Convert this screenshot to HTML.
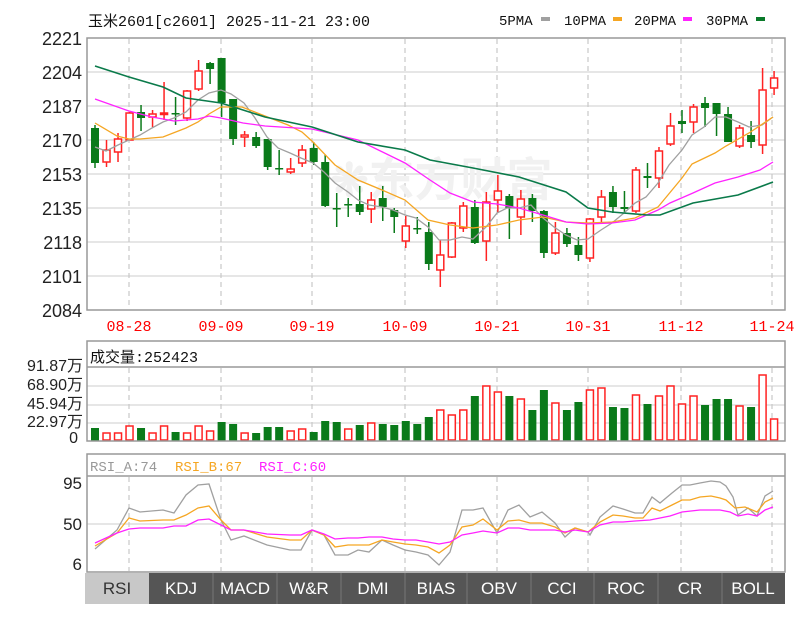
<!DOCTYPE html>
<html><head><meta charset="utf-8"><style>
body{margin:0;background:#fff;width:801px;height:618px;overflow:hidden}
svg{display:block}
.m{font-family:"Liberation Mono","Noto Sans CJK SC",monospace}
.s{font-family:"Liberation Sans","Noto Sans CJK SC",sans-serif}
</style></head><body>
<svg id="c" width="801" height="618" viewBox="0 0 801 618" xmlns="http://www.w3.org/2000/svg">
<rect width="801" height="618" fill="#fff"/>
<text x="88" y="26" class="m" font-size="15" fill="#111">玉米2601[c2601] 2025-11-21 23:00</text>
<g class="m" font-size="14" fill="#111">
<text x="499" y="25">5PMA</text><rect x="541" y="17" width="9" height="4" fill="#a0a0a0"/>
<text x="564" y="25">10PMA</text><rect x="613" y="17" width="9" height="4" fill="#f5a623"/>
<text x="634" y="25">20PMA</text><rect x="683" y="17" width="9" height="4" fill="#ff22ff"/>
<text x="706" y="25">30PMA</text><rect x="756" y="17" width="9" height="4" fill="#0a7a2a"/>
</g>
<g stroke="#ddd" stroke-width="1.5">
<line x1="87" x2="785" y1="72" y2="72"/><line x1="87" x2="785" y1="106" y2="106"/><line x1="87" x2="785" y1="140" y2="140"/><line x1="87" x2="785" y1="174" y2="174"/><line x1="87" x2="785" y1="208" y2="208"/><line x1="87" x2="785" y1="242" y2="242"/><line x1="87" x2="785" y1="276" y2="276"/>
<line x1="87" x2="785" y1="386" y2="386"/><line x1="87" x2="785" y1="405" y2="405"/><line x1="87" x2="785" y1="423" y2="423"/>
<line x1="87" x2="785" y1="524" y2="524"/>
</g>
<g id="vd" stroke="#c8c8c8" stroke-width="1.2" stroke-dasharray="5,4"></g>
<text x="330" y="196" class="s" font-size="46" fill="#f1f1f1" font-weight="bold">❋东方财富</text>
<g class="s" font-size="18" fill="#222" text-anchor="end">
<text x="82" y="45">2221</text><text x="82" y="79">2204</text><text x="82" y="113">2187</text><text x="82" y="147">2170</text><text x="82" y="181">2153</text><text x="82" y="215">2135</text><text x="82" y="249">2118</text><text x="82" y="283">2101</text><text x="82" y="317">2084</text>
</g>
<g class="m" font-size="15" fill="#f00" text-anchor="middle">
<text x="129" y="331">08-28</text><text x="221" y="331">09-09</text><text x="312" y="331">09-19</text><text x="405" y="331">10-09</text><text x="497" y="331">10-21</text><text x="588" y="331">10-31</text><text x="681" y="331">11-12</text><text x="772" y="331">11-24</text>
</g>
<g id="cd"></g>
<g fill="none" stroke-width="1.3">
<polyline stroke="#a0a0a0" points="95,147 106,151 118,145 129,140 140,135 152,128 163,122 174,118 186,112 198,100 209,93 221,90 231,94 244,103 255,118 267,137 278,148 290,153 301,158 313,163 324,172 335,183 348,192 358,200 369,205 382,207 393,210 405,215 416,218 428,227 439,240 450,240 462,237 473,239 486,227 497,213 507,208 519,208 531,205 543,218 554,227 566,235 577,240 588,239 601,230 612,223 624,213 635,203 646,197 658,183 669,165 682,150 692,135 704,127 715,117 726,117 738,122 749,127 762,125 773,117"/>
<polyline stroke="#f5a623" points="95,123 117,136 129,139 140,139 163,137 186,128 198,122 209,114 221,107 242,107 265,116 288,125 302,132 313,142 335,165 358,180 382,190 405,200 428,220 450,225 473,228 497,225 519,220 543,217 566,222 588,223 612,222 635,218 658,207 682,178 692,164 715,153 726,146 749,133 773,117"/>
<polyline stroke="#ff22ff" points="95,99 129,111 152,117 174,121 198,119 209,116 221,118 243,123 265,126 312,129 358,140 405,163 430,180 450,193 473,202 497,204 519,208 543,215 566,222 588,224 612,223 635,220 658,210 670,203 693,193 715,183 738,177 760,170 773,162"/>
<polyline stroke="#0a7a4a" stroke-width="1.6" points="95,66 129,77 163,87 186,98 221,103 265,117 312,127 358,142 405,150 430,160 473,168 519,177 566,192 588,208 612,212 647,215 660,215 693,203 738,195 773,182"/>
</g>
<rect x="87" y="38" width="698" height="272" fill="none" stroke="#999" stroke-width="1.5"/>
<line x1="87" x2="785" y1="367" y2="367" stroke="#999" stroke-width="1.5"/>
<text x="90" y="362" class="m" font-size="15" fill="#111">成交量:252423</text>
<g class="s" font-size="16" fill="#222" text-anchor="end">
<text x="83" y="371">91.87万</text><text x="83" y="390">68.90万</text><text x="83" y="409">45.94万</text><text x="83" y="427">22.97万</text><text x="78" y="443">0</text>
</g>
<g id="vb"></g>
<rect x="87" y="341" width="698" height="100" fill="none" stroke="#999" stroke-width="1.5"/>
<line x1="87" x2="785" y1="476" y2="476" stroke="#999" stroke-width="1.5"/>
<g class="m" font-size="14">
<text x="90" y="471" fill="#999">RSI_A:74</text><text x="175" y="471" fill="#f5a623">RSI_B:67</text><text x="259" y="471" fill="#ff22ff">RSI_C:60</text>
</g>
<g class="s" font-size="17" fill="#222" text-anchor="end">
<text x="82" y="489">95</text><text x="82" y="530">50</text><text x="82" y="570">6</text>
</g>
<g fill="none" stroke-width="1.3">
<polyline stroke="#a0a0a0" points="95,549 117,530 129,508 140,512 163,510 174,513 186,495 198,485 209,484 221,520 231,540 244,536 267,545 290,550 301,550 312,530 324,535 335,555 348,555 358,550 369,552 382,540 393,545 405,550 416,552 428,555 439,565 450,552 462,510 473,510 483,508 497,533 508,510 519,505 530,517 542,512 555,523 565,537 575,528 588,532 590,535 600,517 613,506 623,509 635,513 643,513 652,497 660,503 672,493 682,485 690,485 700,483 711,481 720,482 726,486 733,497 738,515 748,508 757,516 765,496 773,491"/>
<polyline stroke="#f5a623" points="95,546 117,533 129,518 140,521 163,520 174,520 186,515 198,508 209,506 221,520 231,530 244,530 267,537 290,540 301,540 312,530 324,535 335,547 348,545 358,545 369,545 382,540 393,542 405,544 416,545 428,547 439,553 450,545 462,527 473,525 483,519 497,530 508,521 519,520 530,523 542,523 555,527 565,533 575,528 588,532 600,522 613,515 623,516 635,518 643,518 652,508 660,511 672,505 682,500 690,500 700,497 711,496 720,498 726,500 735,508 745,507 757,512 765,502 773,498"/>
<polyline stroke="#ff22ff" points="95,543 117,533 129,529 140,528 163,528 174,526 186,526 198,520 209,519 221,525 231,530 244,530 267,534 290,535 301,535 312,530 324,534 335,539 348,538 358,538 369,537 382,537 393,539 405,540 416,540 428,542 439,544 450,542 462,535 473,533 483,531 497,533 508,528 519,528 530,530 542,530 555,530 565,532 575,530 588,532 600,525 613,522 623,522 635,521 650,520 670,516 682,512 700,510 720,510 730,512 738,516 748,514 757,516 765,510 773,507"/>
</g>
<rect x="87" y="454" width="698" height="118" fill="none" stroke="#999" stroke-width="1.5"/>
<rect x="85" y="573" width="700" height="31" fill="#555"/>
<rect x="85" y="573" width="64" height="31" fill="#c8c8c8"/>
<g stroke="#777" stroke-width="1"><line x1="213" x2="213" y1="573" y2="604"/><line x1="277" x2="277" y1="573" y2="604"/><line x1="341" x2="341" y1="573" y2="604"/><line x1="405" x2="405" y1="573" y2="604"/><line x1="467" x2="467" y1="573" y2="604"/><line x1="531" x2="531" y1="573" y2="604"/><line x1="594" x2="594" y1="573" y2="604"/><line x1="658" x2="658" y1="573" y2="604"/><line x1="722" x2="722" y1="573" y2="604"/></g>
<g class="s" font-size="17" fill="#fff" text-anchor="middle">
<text x="117" y="594" fill="#333">RSI</text><text x="181" y="594">KDJ</text><text x="245" y="594">MACD</text><text x="309" y="594">W&amp;R</text><text x="373" y="594">DMI</text><text x="436" y="594">BIAS</text><text x="499" y="594">OBV</text><text x="562" y="594">CCI</text><text x="626" y="594">ROC</text><text x="690" y="594">CR</text><text x="753" y="594">BOLL</text>
</g>
</svg>
<script>
var NS="http://www.w3.org/2000/svg";
function el(p,t,a){var e=document.createElementNS(NS,t);for(var k in a)e.setAttribute(k,a[k]);p.appendChild(e);return e;}
var vd=document.getElementById('vd');
[129,221,312,405,497,588,681,772].forEach(function(x){
 [[39,309],[368,440],[477,571]].forEach(function(r){el(vd,'line',{x1:x,x2:x,y1:r[0],y2:r[1]});});
});
var C=[['g',128,163,125,168],['r',150,162,140,167],['r',139,152,133,162],['r',113,140,112,140],['g',112,118,105,131],['r',114,117,110,127],['r',113,114,82,120],['g',113,114,97,125],['r',91,118,90,121],['r',71,89,60,91],['g',63,69,62,84],['g',58,103,58,117],['g',99,139,99,145],['r',135,137,131,147],['g',137,146,132,148],['g',139,167,139,170],['g',168,169,150,175],['r',169,172,158,174],['r',150,163,145,167],['g',148,162,142,165],['g',162,206,155,207],['g',208,209,193,227],['g',204,205,198,217],['g',204,212,186,215],['r',200,209,192,223],['g',198,207,186,221],['g',210,217,208,233],['r',226,241,216,248],['g',228,229,217,234],['g',232,264,222,270],['r',255,270,240,287],['r',223,257,222,258],['r',206,228,202,232],['g',207,243,200,244],['r',202,241,192,261],['r',191,200,175,213],['g',196,208,194,239],['r',199,217,190,235],['g',198,211,194,222],['g',211,253,210,258],['r',233,253,222,255],['g',233,244,228,247],['g',245,255,237,261],['r',219,258,218,262],['r',197,217,190,224],['g',192,207,186,213],['g',207,209,191,212],['r',170,211,167,213],['g',176,178,163,188],['r',151,178,147,188],['r',126,144,113,146],['g',121,124,110,133],['r',107,122,104,133],['g',103,108,97,127],['g',103,114,103,136],['g',114,142,107,142],['r',128,146,125,148],['g',135,142,121,148],['r',90,145,68,154],['r',78,88,71,95]];
var cd=document.getElementById('cd');
C.forEach(function(c,i){var x=95+i*11.51;var col=c[0]=='r'?'#f22':'#0a7a1a';
 el(cd,'line',{x1:x,x2:x,y1:c[3],y2:c[4],stroke:col,'stroke-width':1.5});
 var h=Math.max(c[2]-c[1],1.5);
 if(c[0]=='r')el(cd,'rect',{x:x-3.5,y:c[1],width:7,height:h,fill:'#fff',stroke:col,'stroke-width':1.5});
 else el(cd,'rect',{x:x-4,y:c[1],width:8,height:h,fill:col});
});
var V=[['g',428],['r',433],['r',433],['r',426],['g',428],['r',433],['r',426],['g',432],['r',433],['r',426],['r',431],['g',422],['g',424],['r',433],['g',433],['g',427],['g',427],['r',431],['r',429],['g',432],['g',421],['g',422],['r',429],['g',425],['r',423],['g',424],['g',425],['g',421],['g',424],['g',417],['r',410],['r',415],['r',410],['g',396],['r',386],['r',392],['g',396],['r',399],['g',410],['g',390],['r',403],['g',410],['g',402],['r',390],['r',388],['g',407],['g',408],['r',395],['g',404],['r',396],['r',386],['r',404],['r',396],['g',405],['g',399],['g',399],['r',406],['g',407],['r',375],['r',419]];
var vb=document.getElementById('vb');
V.forEach(function(v,i){var x=95+i*11.51;
 if(v[0]=='r')el(vb,'rect',{x:x-3.5,y:v[1],width:7,height:440-v[1],fill:'#fff',stroke:'#f22','stroke-width':1.5});
 else el(vb,'rect',{x:x-4,y:v[1],width:8,height:441-v[1],fill:'#0a7a1a'});
});
</script>
</body></html>
